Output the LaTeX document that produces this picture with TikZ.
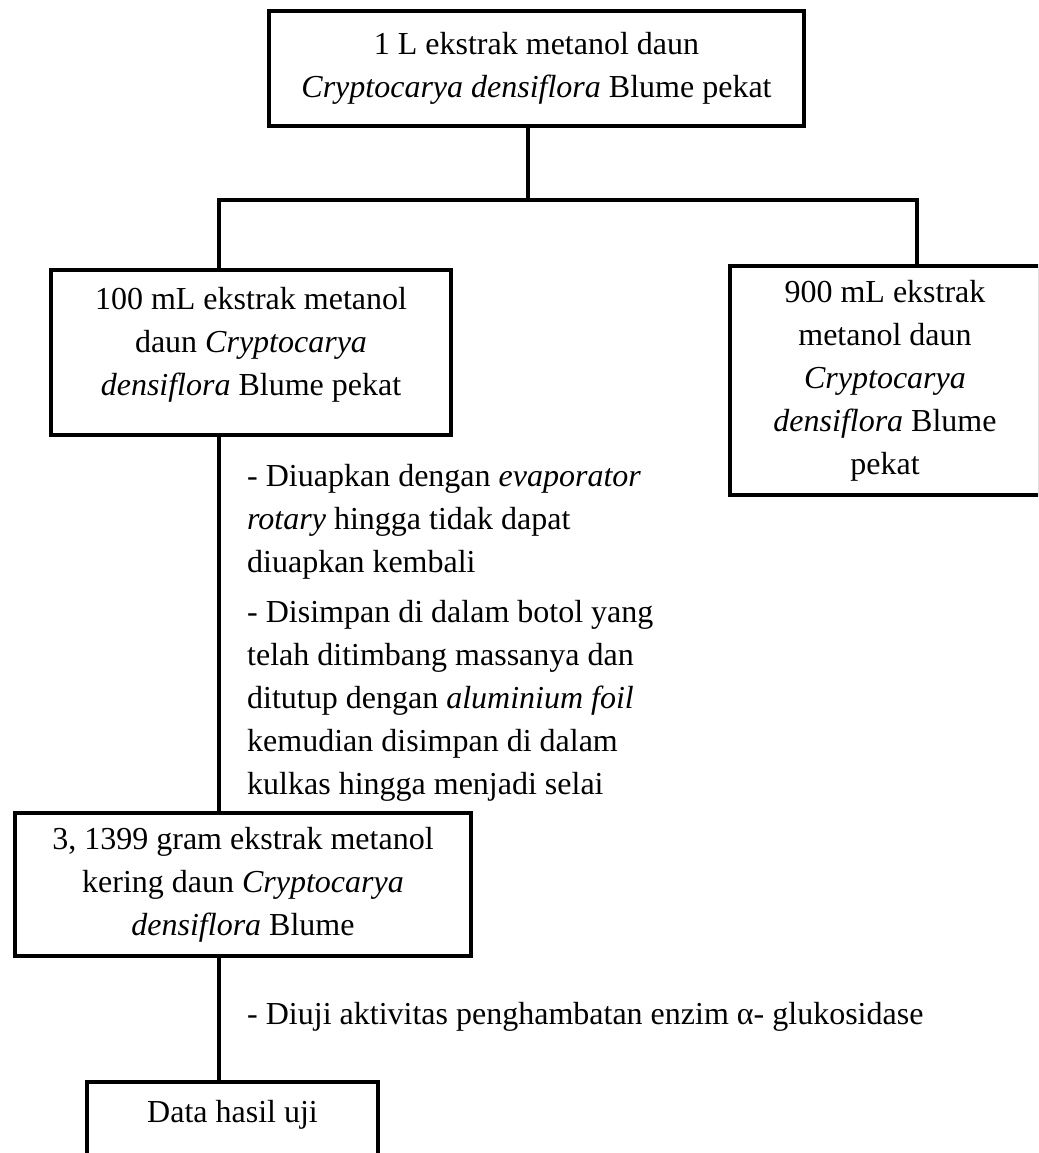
\documentclass[tikz,border=0pt]{standalone}
\usepackage{fontspec}
\setmainfont{Liberation Serif}
\usepackage{tikz}
\usetikzlibrary{positioning,calc}

\begin{document}
\begin{tikzpicture}[x=1pt,y=1pt,
  font=\fontsize{32}{43}\selectfont,
  blk/.style={draw,line width=4pt,align=center,inner sep=0pt},
  ln/.style={line width=4pt,line cap=rect,line join=miter},
  note/.style={align=left,inner sep=0pt,anchor=north west}]
\useasboundingbox (0,0) rectangle (1038,-1153);
\clip (0,0) rectangle (1038,-1153);
\def\xL{219}\def\xT{528}\def\xR{917}\def\yH{-200}
% boxes
\node[blk,minimum width=535,minimum height=115] (crude) at (536.5,-68.5)
  {1 L ekstrak metanol daun\\ \textit{Cryptocarya densiflora} Blume pekat};
\node[blk,minimum width=400,minimum height=165,text depth=23pt] (part) at (251,-352.5)
  {100 mL ekstrak metanol\\ daun \textit{Cryptocarya}\\ \textit{densiflora} Blume pekat};
\node[blk,minimum width=310,minimum height=229] (rest) at (885,-380.5)
  {900 mL ekstrak\\ metanol daun\\ \textit{Cryptocarya}\\ \textit{densiflora} Blume\\ pekat};
\node[blk,minimum width=456,minimum height=143] (dry) at (243,-884.5)
  {3, 1399 gram ekstrak metanol\\ kering daun \textit{Cryptocarya}\\ \textit{densiflora} Blume};
\node[blk,minimum width=291,minimum height=76,text depth=17pt] (data) at (232.5,-1120)
  {Data hasil uji};
% split
\coordinate (jT) at (\xT,\yH);
\coordinate (jL) at (\xL,\yH);
\coordinate (jR) at (\xR,\yH);
\draw[ln] (crude.south -| jT) -- (jT);
\draw[ln] (part.north -| jL) -- (jL) -- (jR) -- (rest.north -| jR);
\draw[ln] (part.south -| jL) -- (dry.north -| jL);
\draw[ln] (dry.south -| jL) -- (data.north -| jL);
% steps
\node[note] (evap) at (247,-464)
  {- Diuapkan dengan \textit{evaporator}\\
   \textit{rotary} hingga tidak dapat\\
   diuapkan kembali\\[7pt]
   - Disimpan di dalam botol yang\\
   telah ditimbang massanya dan\\
   ditutup dengan \textit{aluminium foil}\\
   kemudian disimpan di dalam\\
   kulkas hingga menjadi selai};
\node[note] (assay) at (247,-1002)
  {- Diuji aktivitas penghambatan enzim α- glukosidase};
\end{tikzpicture}
\end{document}
